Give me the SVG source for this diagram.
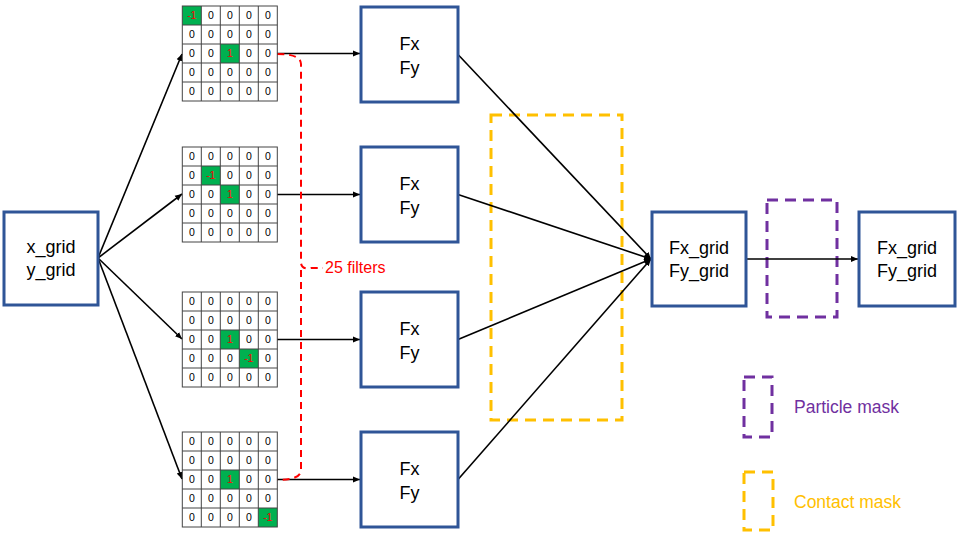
<svg xmlns="http://www.w3.org/2000/svg" xmlns:xlink="http://www.w3.org/1999/xlink" width="958" height="537" viewBox="0 0 958 537">
<style>
.node rect{fill:#fff;stroke:#2F5597;stroke-width:3}
.lbl{font-family:"Liberation Sans",Arial,sans-serif;font-size:18px;text-anchor:middle;fill:#000}
.c{font-family:"Liberation Sans",Arial,sans-serif;font-size:10.5px;text-anchor:middle;fill:#000}
.h{fill:#FF0000}
.g{fill:#00B050}
.conn{stroke:#000;stroke-width:1.6;fill:none;marker-end:url(#arr)}
.gl{fill:none;stroke:#444;stroke-width:1}
.mask{fill:none;stroke-width:3;stroke-dasharray:11 7}
.leg{font-family:"Liberation Sans",Arial,sans-serif;font-size:17.5px}
</style>
<defs>
<marker id="arr" markerWidth="8" markerHeight="8" refX="7" refY="4" orient="auto" markerUnits="userSpaceOnUse"><path d="M0,1 L7,4 L0,7 Z" fill="#000"/></marker>
<g id="gridlines" class="gl"><rect x="0" y="0" width="95" height="95"/><path d="M19,0V95M38,0V95M57,0V95M76,0V95M0,19H95M0,38H95M0,57H95M0,76H95"/></g>
</defs>
<rect width="958" height="537" fill="#fff"/>

<!-- masks -->
<g id="contact-mask"><rect class="mask" x="491" y="115" width="131" height="305" stroke="#FFC000"/></g>
<g id="particle-mask"><rect class="mask" x="767" y="200" width="70" height="117" stroke="#7030A0"/></g>

<!-- connectors -->
<g id="connectors">
<path class="conn" d="M98,258 L182,54"/>
<path class="conn" d="M98,258 L182,194"/>
<path class="conn" d="M98,258 L182,339"/>
<path class="conn" d="M98,258 L182,479"/>
<path class="conn" d="M277,53.5 L360,53.5"/>
<path class="conn" d="M277,194.5 L360,194.5"/>
<path class="conn" d="M277,339.5 L360,339.5"/>
<path class="conn" d="M277,479.5 L360,479.5"/>
<path class="conn" d="M458,54.5 L651,259"/>
<path class="conn" d="M458,194.5 L651,259"/>
<path class="conn" d="M458,339.5 L651,259"/>
<path class="conn" d="M458,479.5 L651,259"/>
<path class="conn" d="M746,259 L858,259"/>
</g>

<!-- brace -->
<g id="brace">
<path d="M277,54 Q301,54 301,64 L301,262 Q301,270 311,268 L323,268 M301,270 L301,470 Q301,480 277,480" fill="none" stroke="#FF0000" stroke-width="2" stroke-dasharray="7 5"/>
<text x="325" y="273" font-family="Liberation Sans, Arial, sans-serif" font-size="16" fill="#FF0000">25 filters</text>
</g>

<!-- input node -->
<g id="input" class="node"><rect x="4" y="212" width="94" height="93"/>
<text class="lbl" x="51" y="253">x_grid</text><text class="lbl" x="51" y="276">y_grid</text></g>

<!-- filters -->
<g id="filter1" transform="translate(182.3,6)">
<rect class="g" x="0" y="0" width="19" height="19"/><rect class="g" x="38" y="38" width="19" height="19"/>
<use href="#gridlines"/>
<text class="c h" x="9.5" y="13">-1</text><text class="c" x="28.5" y="13">0</text><text class="c" x="47.5" y="13">0</text><text class="c" x="66.5" y="13">0</text><text class="c" x="85.5" y="13">0</text>
<text class="c" x="9.5" y="32">0</text><text class="c" x="28.5" y="32">0</text><text class="c" x="47.5" y="32">0</text><text class="c" x="66.5" y="32">0</text><text class="c" x="85.5" y="32">0</text>
<text class="c" x="9.5" y="51">0</text><text class="c" x="28.5" y="51">0</text><text class="c h" x="47.5" y="51">1</text><text class="c" x="66.5" y="51">0</text><text class="c" x="85.5" y="51">0</text>
<text class="c" x="9.5" y="70">0</text><text class="c" x="28.5" y="70">0</text><text class="c" x="47.5" y="70">0</text><text class="c" x="66.5" y="70">0</text><text class="c" x="85.5" y="70">0</text>
<text class="c" x="9.5" y="89">0</text><text class="c" x="28.5" y="89">0</text><text class="c" x="47.5" y="89">0</text><text class="c" x="66.5" y="89">0</text><text class="c" x="85.5" y="89">0</text>
</g>
<g id="filter2" transform="translate(182.3,147)">
<rect class="g" x="19" y="19" width="19" height="19"/><rect class="g" x="38" y="38" width="19" height="19"/>
<use href="#gridlines"/>
<text class="c" x="9.5" y="13">0</text><text class="c" x="28.5" y="13">0</text><text class="c" x="47.5" y="13">0</text><text class="c" x="66.5" y="13">0</text><text class="c" x="85.5" y="13">0</text>
<text class="c" x="9.5" y="32">0</text><text class="c h" x="28.5" y="32">-1</text><text class="c" x="47.5" y="32">0</text><text class="c" x="66.5" y="32">0</text><text class="c" x="85.5" y="32">0</text>
<text class="c" x="9.5" y="51">0</text><text class="c" x="28.5" y="51">0</text><text class="c h" x="47.5" y="51">1</text><text class="c" x="66.5" y="51">0</text><text class="c" x="85.5" y="51">0</text>
<text class="c" x="9.5" y="70">0</text><text class="c" x="28.5" y="70">0</text><text class="c" x="47.5" y="70">0</text><text class="c" x="66.5" y="70">0</text><text class="c" x="85.5" y="70">0</text>
<text class="c" x="9.5" y="89">0</text><text class="c" x="28.5" y="89">0</text><text class="c" x="47.5" y="89">0</text><text class="c" x="66.5" y="89">0</text><text class="c" x="85.5" y="89">0</text>
</g>
<g id="filter3" transform="translate(182.3,292)">
<rect class="g" x="38" y="38" width="19" height="19"/><rect class="g" x="57" y="57" width="19" height="19"/>
<use href="#gridlines"/>
<text class="c" x="9.5" y="13">0</text><text class="c" x="28.5" y="13">0</text><text class="c" x="47.5" y="13">0</text><text class="c" x="66.5" y="13">0</text><text class="c" x="85.5" y="13">0</text>
<text class="c" x="9.5" y="32">0</text><text class="c" x="28.5" y="32">0</text><text class="c" x="47.5" y="32">0</text><text class="c" x="66.5" y="32">0</text><text class="c" x="85.5" y="32">0</text>
<text class="c" x="9.5" y="51">0</text><text class="c" x="28.5" y="51">0</text><text class="c h" x="47.5" y="51">1</text><text class="c" x="66.5" y="51">0</text><text class="c" x="85.5" y="51">0</text>
<text class="c" x="9.5" y="70">0</text><text class="c" x="28.5" y="70">0</text><text class="c" x="47.5" y="70">0</text><text class="c h" x="66.5" y="70">-1</text><text class="c" x="85.5" y="70">0</text>
<text class="c" x="9.5" y="89">0</text><text class="c" x="28.5" y="89">0</text><text class="c" x="47.5" y="89">0</text><text class="c" x="66.5" y="89">0</text><text class="c" x="85.5" y="89">0</text>
</g>
<g id="filter4" transform="translate(182.3,432)">
<rect class="g" x="38" y="38" width="19" height="19"/><rect class="g" x="76" y="76" width="19" height="19"/>
<use href="#gridlines"/>
<text class="c" x="9.5" y="13">0</text><text class="c" x="28.5" y="13">0</text><text class="c" x="47.5" y="13">0</text><text class="c" x="66.5" y="13">0</text><text class="c" x="85.5" y="13">0</text>
<text class="c" x="9.5" y="32">0</text><text class="c" x="28.5" y="32">0</text><text class="c" x="47.5" y="32">0</text><text class="c" x="66.5" y="32">0</text><text class="c" x="85.5" y="32">0</text>
<text class="c" x="9.5" y="51">0</text><text class="c" x="28.5" y="51">0</text><text class="c h" x="47.5" y="51">1</text><text class="c" x="66.5" y="51">0</text><text class="c" x="85.5" y="51">0</text>
<text class="c" x="9.5" y="70">0</text><text class="c" x="28.5" y="70">0</text><text class="c" x="47.5" y="70">0</text><text class="c" x="66.5" y="70">0</text><text class="c" x="85.5" y="70">0</text>
<text class="c" x="9.5" y="89">0</text><text class="c" x="28.5" y="89">0</text><text class="c" x="47.5" y="89">0</text><text class="c" x="66.5" y="89">0</text><text class="c h" x="85.5" y="89">-1</text>
</g>

<!-- Fx/Fy nodes -->
<g id="f1" class="node"><rect x="361" y="7" width="97" height="95"/><text class="lbl" x="409.5" y="49.5">Fx</text><text class="lbl" x="409.5" y="73.5">Fy</text></g>
<g id="f2" class="node"><rect x="361" y="147" width="97" height="95"/><text class="lbl" x="409.5" y="189.5">Fx</text><text class="lbl" x="409.5" y="213.5">Fy</text></g>
<g id="f3" class="node"><rect x="361" y="292" width="97" height="95"/><text class="lbl" x="409.5" y="334.5">Fx</text><text class="lbl" x="409.5" y="358.5">Fy</text></g>
<g id="f4" class="node"><rect x="361" y="432" width="97" height="95"/><text class="lbl" x="409.5" y="474.5">Fx</text><text class="lbl" x="409.5" y="498.5">Fy</text></g>

<g id="fgrid" class="node"><rect x="652" y="212" width="94" height="94"/><text class="lbl" x="699" y="254">Fx_grid</text><text class="lbl" x="699" y="277">Fy_grid</text></g>
<g id="fgrid-out" class="node"><rect x="859" y="212" width="96" height="94"/><text class="lbl" x="907" y="254">Fx_grid</text><text class="lbl" x="907" y="277">Fy_grid</text></g>

<!-- legend -->
<g id="legend">
<rect class="mask" x="744" y="377" width="28" height="60" stroke="#7030A0"/>
<text class="leg" x="794" y="413" fill="#7030A0">Particle mask</text>
<rect class="mask" x="744" y="472" width="29" height="58" stroke="#FFC000"/>
<text class="leg" x="794" y="508" fill="#FFC000">Contact mask</text>
</g>
</svg>
